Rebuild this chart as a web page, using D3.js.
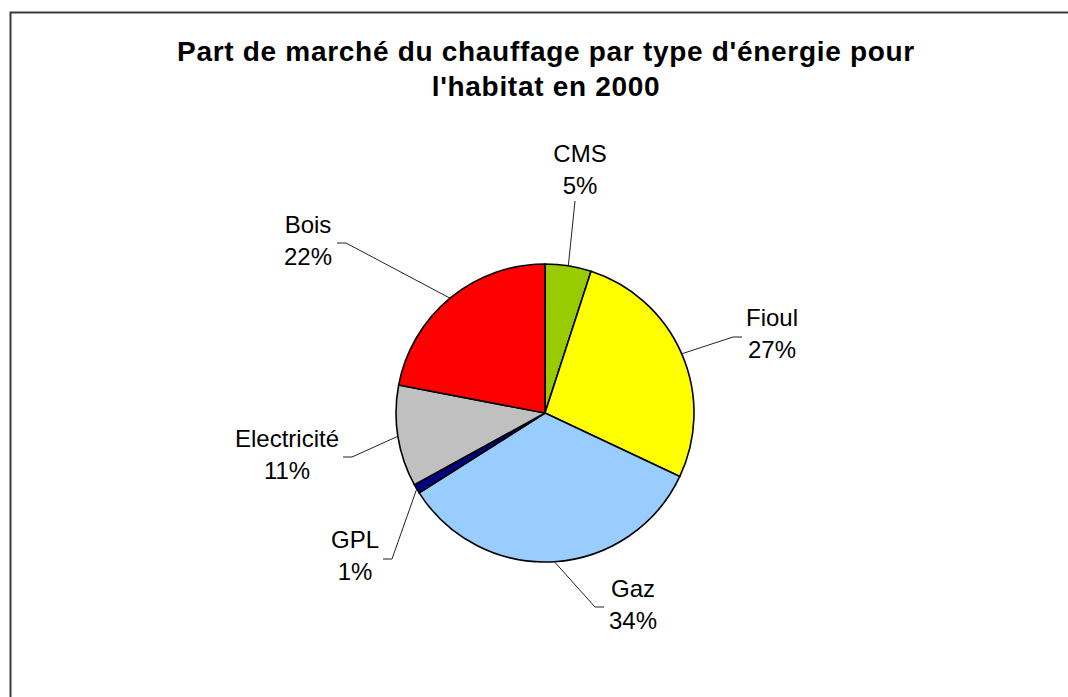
<!DOCTYPE html>
<html lang="fr">
<head>
<meta charset="UTF-8">
<title>Part de marché du chauffage</title>
<script src="https://d3js.org/d3.v7.min.js"></script>
<style>
  body { margin: 0; background: #fff; overflow: hidden; }
  svg { display: block; }
  svg text { font-family: "Liberation Sans", Arial, sans-serif; fill: #000; }
  .title { font-size: 28px; font-weight: bold; text-anchor: middle; letter-spacing: 0.7px; }
  .label { font-size: 24px; text-anchor: middle; }
  .leader { fill: none; stroke: #222; stroke-width: 1; }
</style>
</head>
<body>
<div id="chart"></div>
<script>
// data
const categories = ["CMS", "Fioul", "Gaz", "GPL", "Electricité", "Bois"];
const shares = [5, 27, 34, 1, 11, 22];
const colors = ["#99CC00", "#FFFF00", "#99CCFF", "#000080", "#C0C0C0", "#FF0000"];
const titleLines = ["Part de marché du chauffage par type d'énergie pour", "l'habitat en 2000"];

const width = 1068, height = 697;
const cx = 545, cy = 413, radius = 149;

// label layout, offsets from pie centre: text centre / first baseline, leader elbow, stub end
const labelLayout = {
  "CMS":         { tx: 35,   ty: -251, ex: 30,   ey: -212, sx: 30,   sy: -212 },
  "Fioul":       { tx: 227,  ty: -87,  ex: 188,  ey: -76,  sx: 197,  sy: -76 },
  "Gaz":         { tx: 88,   ty: 184,  ex: 50,   ey: 194,  sx: 59,   sy: 194 },
  "GPL":         { tx: -190, ty: 135,  ex: -153, ey: 146,  sx: -162, sy: 146 },
  "Electricité": { tx: -258, ty: 34,   ex: -193, ey: 44,   sx: -202, sy: 44 },
  "Bois":        { tx: -237, ty: -180, ex: -199, ey: -170, sx: -208, sy: -170 }
};

const data = categories.map((c, i) => ({ name: c, value: shares[i], color: colors[i] }));

const svg = d3.select("#chart").append("svg")
  .attr("width", width)
  .attr("height", height);

// chart area frame: only the left and top edges are inside the picture
svg.append("path")
  .attr("d", `M10.5,${height} V12.5 H${width}`)
  .attr("fill", "none")
  .attr("stroke", "#3a3a3a")
  .attr("stroke-width", 2);

svg.selectAll(".title")
  .data(titleLines)
  .join("text")
  .attr("class", "title")
  .attr("x", 546)
  .attr("y", (d, i) => 61 + i * 35)
  .text(d => d);

const pie = d3.pie().sort(null).value(d => d.value);
const arc = d3.arc().innerRadius(0).outerRadius(radius);
const arcs = pie(data);

const g = svg.append("g").attr("transform", `translate(${cx},${cy})`);

g.selectAll("path.slice")
  .data(arcs)
  .join("path")
  .attr("class", "slice")
  .attr("d", arc)
  .attr("fill", d => d.data.color)
  .attr("stroke", "#000")
  .attr("stroke-width", 1.6)
  .attr("stroke-linejoin", "round");

// leader lines from the middle of each slice's outer edge
g.selectAll("polyline.leader")
  .data(arcs)
  .join("polyline")
  .attr("class", "leader")
  .attr("points", d => {
    const a = (d.startAngle + d.endAngle) / 2;
    const L = labelLayout[d.data.name];
    const p0 = [radius * Math.sin(a), -radius * Math.cos(a)];
    return [p0, [L.ex, L.ey], [L.sx, L.sy]].map(p => p.join(",")).join(" ");
  });

const labels = g.selectAll("text.label")
  .data(arcs)
  .join("text")
  .attr("class", "label")
  .attr("x", d => labelLayout[d.data.name].tx)
  .attr("y", d => labelLayout[d.data.name].ty);

labels.append("tspan").text(d => d.data.name);
labels.append("tspan")
  .attr("x", d => labelLayout[d.data.name].tx)
  .attr("dy", 32)
  .text(d => d.data.value + "%");
</script>
</body>
</html>
